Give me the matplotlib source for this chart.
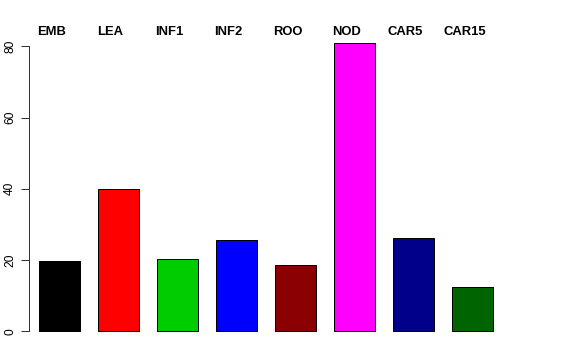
import matplotlib.pyplot as plt
import numpy as np

# tissue groups and values
tissues = ["EMB", "LEA", "INF1", "INF2", "ROO", "NOD", "CAR5", "CAR15"]
values = [19.7, 40.0, 20.2, 25.7, 18.5, 80.9, 26.2, 12.4]
colors = ["black", "red", "#00CD00", "blue", "#8B0000", "magenta", "#00008B", "#006400"]

W, H = 576, 360
fig = plt.figure(figsize=(W / 72, H / 72), dpi=72)
fig.patch.set_facecolor("white")

# plot region in pixels (R-like layout)
left, right = 28.7, 550.0
top, bottom = 31.6, 342.8
ax = fig.add_axes([left / W, 1 - bottom / H, (right - left) / W, (bottom - top) / H])

x = np.arange(len(tissues))
step = 59.0  # pixels per bar slot
first_center = 59.5
ax.set_xlim(-(first_center - left) / step, (right - first_center) / step)
ymax = max(values)
ax.set_ylim(-0.04 * ymax, 1.04 * ymax)

ax.bar(x, values, width=0.707, color=colors, edgecolor="black", linewidth=1.0)

# names above the bars
for xi, name in zip(x, tissues):
    ax.text(xi - 0.136, 1.04 * ymax, name, ha="center", va="center",
            fontsize=13, fontweight="bold", family="Liberation Sans", clip_on=False)

for s in ["top", "right", "bottom"]:
    ax.spines[s].set_visible(False)
ax.spines["left"].set_bounds(0, 80)
ax.spines["left"].set_color("#333333")
ax.spines["left"].set_linewidth(1.0)

ax.set_xticks([])
ax.set_yticks([0, 20, 40, 60, 80])
ax.tick_params(axis="y", length=8.5, width=1.0, color="#333333", pad=4.0,
               labelsize=12)
for lab in ax.get_yticklabels():
    lab.set_rotation(90)
    lab.set_va("center")
    lab.set_family("Liberation Sans")

fig.savefig("out.png", dpi=72, facecolor="white")
